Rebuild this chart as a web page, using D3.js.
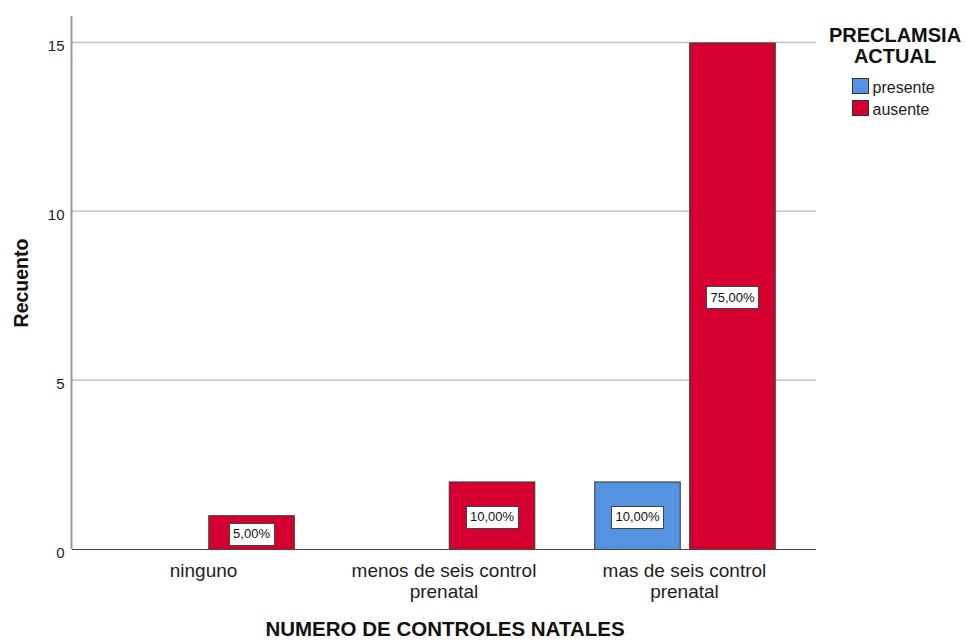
<!DOCTYPE html>
<html>
<head>
<meta charset="utf-8">
<script src="https://cdn.jsdelivr.net/npm/d3@7/dist/d3.min.js"></script>
<style>
  html, body { margin: 0; padding: 0; background: #fff; }
  svg { display: block; font-family: "Liberation Sans", Arial, sans-serif; }
</style>
</head>
<body>
<svg id="chart" width="966" height="641"></svg>
<script>
// ---- data ----
const categories = [["ninguno"], ["menos de seis control", "prenatal"], ["mas de seis control", "prenatal"]];
const categoryKeys = ["ninguno", "menos", "mas"];
const series = ["presente", "ausente"];
const presenteValues = [0, 0, 2];
const ausenteValues = [1, 2, 15];
const yTicks = [0, 5, 10, 15];
const seriesColors = ["#5592e0", "#d5002f"];
const legendTitle = ["PRECLAMSIA", "ACTUAL"];
const xTitle = "NUMERO DE CONTROLES NATALES";
const yTitle = "Recuento";

const valuesBySeries = [presenteValues, ausenteValues];
const total = d3.sum(presenteValues) + d3.sum(ausenteValues);
const pct = v => d3.format(".2f")(v / total * 100).replace(".", ",") + "%";

const svg = d3.select("#chart");

const y = d3.scaleLinear().domain([0, 15]).range([549, 42.5]);
const x0 = d3.scaleBand().domain(categoryKeys).range([72, 816]).paddingOuter(0.047).paddingInner(0).align(0.5);
const x1 = d3.scaleBand().domain(series).range([30, 210.5]).paddingInner(0.1);

// gridlines
svg.append("g").selectAll("line").data(yTicks.filter(t => t > 0)).join("line")
  .attr("x1", 72).attr("x2", 816)
  .attr("y1", d => y(d)).attr("y2", d => y(d))
  .attr("stroke", "#c4c4c4").attr("stroke-width", 1.5);

// y axis
const yAxis = d3.axisLeft(y).tickValues(yTicks).tickSize(0).tickPadding(7).tickFormat(d3.format("d"));
const gy = svg.append("g").attr("transform", "translate(71.5,0)").call(yAxis);
gy.select(".domain").remove();
gy.selectAll("text").attr("font-size", 15).attr("fill", "#222").attr("dy", "0.55em")
  .attr("font-family", "Liberation Sans, Arial, sans-serif");
svg.append("line").attr("x1", 71.5).attr("x2", 71.5).attr("y1", 16).attr("y2", 549)
  .attr("stroke", "#999").attr("stroke-width", 2);

// bars
const barData = [];
categoryKeys.forEach((c, i) => series.forEach((s, j) => {
  const v = valuesBySeries[j][i];
  if (v > 0) barData.push({ c, s, j, v });
}));

const gBars = svg.append("g");
gBars.selectAll("rect").data(barData).join("rect")
  .attr("x", d => x0(d.c) + x1(d.s) + 0.5)
  .attr("y", d => y(d.v) + 0.5)
  .attr("width", x1.bandwidth())
  .attr("height", d => y(0) - y(d.v))
  .attr("fill", d => seriesColors[d.j])
  .attr("stroke", "#333").attr("stroke-width", 1);

// x axis line
svg.append("line").attr("x1", 72).attr("x2", 816).attr("y1", 549.5).attr("y2", 549.5)
  .attr("stroke", "#444").attr("stroke-width", 1.2);

// data labels
const gLab = svg.append("g");
barData.forEach(d => {
  const cx = x0(d.c) + x1(d.s) + x1.bandwidth() / 2 + 0.5;
  const cy = (y(d.v) + y(0)) / 2 + 1.5;
  const g = gLab.append("g");
  const t = g.append("text").attr("x", cx).attr("y", cy + 4.5)
    .attr("text-anchor", "middle").attr("font-size", 13).attr("fill", "#111")
    .text(pct(d.v));
  const w = t.node().getComputedTextLength() + 8;
  g.insert("rect", "text").attr("x", Math.round(cx - w / 2) + 0.5).attr("y", Math.round(cy - 11) + 0.5)
    .attr("width", Math.round(w)).attr("height", 22)
    .attr("fill", "#fff").attr("stroke", "#444").attr("stroke-width", 1);
});

// category labels
const gCat = svg.append("g");
categoryKeys.forEach((c, i) => {
  const t = gCat.append("text").attr("x", x0(c) + x0.bandwidth() / 2).attr("y", 577)
    .attr("text-anchor", "middle").attr("font-size", 19).attr("fill", "#222");
  categories[i].forEach((line, k) => {
    t.append("tspan").attr("x", x0(c) + x0.bandwidth() / 2).attr("dy", k === 0 ? 0 : 20.5).text(line);
  });
});

// axis titles
svg.append("text").attr("x", 445).attr("y", 636).attr("text-anchor", "middle")
  .attr("font-size", 20.5).attr("font-weight", "bold").attr("fill", "#111").text(xTitle);
svg.append("text").attr("transform", "translate(28,283) rotate(-90)").attr("text-anchor", "middle")
  .attr("font-size", 19.5).attr("font-weight", "bold").attr("fill", "#111").text(yTitle);

// legend
const gLeg = svg.append("g");
legendTitle.forEach((line, k) => {
  gLeg.append("text").attr("x", 895).attr("y", 42 + k * 21).attr("text-anchor", "middle")
    .attr("font-size", 20).attr("font-weight", "bold").attr("fill", "#111").text(line);
});
series.forEach((s, j) => {
  gLeg.append("rect").attr("x", 852.5).attr("y", 78.5 + j * 22).attr("width", 16).attr("height", 15)
    .attr("fill", seriesColors[j]).attr("stroke", "#333").attr("stroke-width", 1);
  gLeg.append("text").attr("x", 872.5).attr("y", 92.5 + j * 22).attr("font-size", 16).attr("fill", "#222").text(s);
});
</script>
</body>
</html>
